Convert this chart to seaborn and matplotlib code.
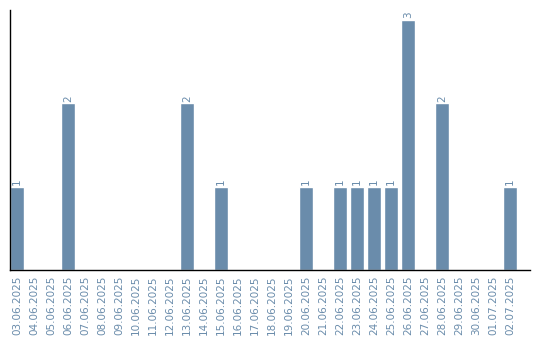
import matplotlib
matplotlib.use("Agg")
import matplotlib.pyplot as plt
import seaborn as sns
import pandas as pd

dates = ["03.06.2025", "04.06.2025", "05.06.2025", "06.06.2025", "07.06.2025",
         "08.06.2025", "09.06.2025", "10.06.2025", "11.06.2025", "12.06.2025",
         "13.06.2025", "14.06.2025", "15.06.2025", "16.06.2025", "17.06.2025",
         "18.06.2025", "19.06.2025", "20.06.2025", "21.06.2025", "22.06.2025",
         "23.06.2025", "24.06.2025", "25.06.2025", "26.06.2025", "27.06.2025",
         "28.06.2025", "29.06.2025", "30.06.2025", "01.07.2025", "02.07.2025"]
counts = [1, 0, 0, 2, 0, 0, 0, 0, 0, 0,
          2, 0, 1, 0, 0, 0, 0, 1, 0, 1,
          1, 1, 1, 3, 0, 2, 0, 0, 0, 1]

bar_color = "#6a8cab"
text_color = "#6a8cab"

df = pd.DataFrame({"date": dates, "count": counts})

sns.set_style("white")
plt.rcParams["font.family"] = ["DejaVu Sans"]

fig = plt.figure(figsize=(5.4, 3.4), dpi=100)
ax = fig.add_axes([10/540, 70/340, 520/540, 260/340])

sns.barplot(data=df, x="date", y="count", order=dates, color=bar_color,
            saturation=1, width=14/17, ax=ax)

for i, v in enumerate(counts):
    if v > 0:
        ax.text(i, v + 0.02, str(v), rotation=90, ha="center", va="bottom",
                fontsize=7.5, color=text_color)

ax.set_xlim(-7/17, -7/17 + 520/17)
ax.set_ylim(0, 3 * 260 / 250)
ax.set_xlabel("")
ax.set_ylabel("")
ax.set_yticks([])
ax.tick_params(axis="x", length=0, pad=4, labelsize=7.5, labelcolor=text_color)
plt.setp(ax.get_xticklabels(), rotation=90)

for s in ["top", "right"]:
    ax.spines[s].set_visible(False)
for s in ["left", "bottom"]:
    ax.spines[s].set_color("black")
    ax.spines[s].set_linewidth(1.0)

fig.savefig("out.png", dpi=100)
